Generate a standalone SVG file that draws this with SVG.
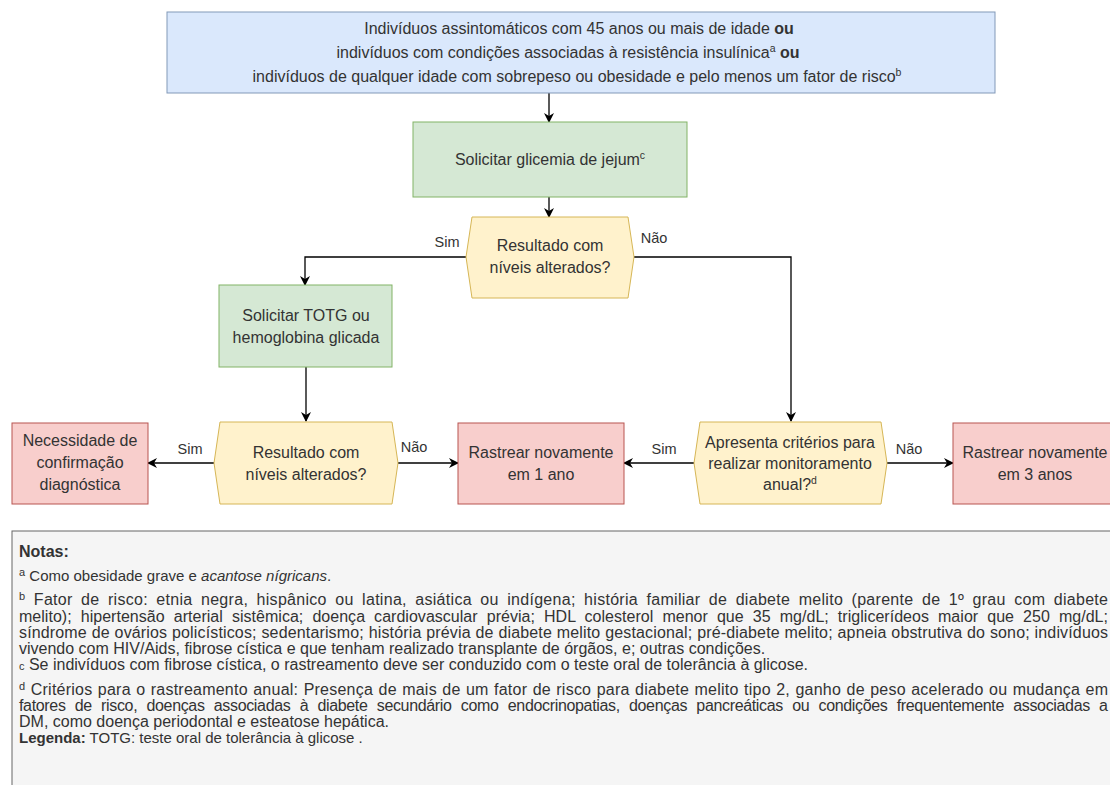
<svg xmlns="http://www.w3.org/2000/svg" width="1110" height="785" viewBox="0 0 1110 785">
<defs>
<marker id="arr" viewBox="0 0 10 10" refX="9" refY="5" markerWidth="10" markerHeight="10" markerUnits="userSpaceOnUse" orient="auto">
<path d="M0,0 L10,5 L0,10 L3,5 Z" fill="#000"/>
</marker>
<style>
.t{font-family:"Liberation Sans",Arial,sans-serif;font-size:16px;fill:#333;text-anchor:middle}
.lbl{font-family:"Liberation Sans",Arial,sans-serif;font-size:14.5px;fill:#333;text-anchor:middle}
.n{font-family:"Liberation Sans",Arial,sans-serif;font-size:16px;fill:#333}
.n15{font-size:15px}
.blue{fill:#dae8fc;stroke:#8299b8;stroke-width:1}
.green{fill:#d5e8d4;stroke:#82b366;stroke-width:1}
.yellow{fill:#fff2cc;stroke:#d6b656;stroke-width:1}
.red{fill:#f8cecc;stroke:#b85450;stroke-width:1}
.c{fill:none;stroke:#000;stroke-width:1.3;marker-end:url(#arr)}
</style>
</defs>
<rect width="1110" height="785" fill="#fff"/>

<g id="connectors">
<path class="c" d="M549,93 V122"/>
<path class="c" d="M549,197 V217"/>
<path class="c" d="M466,257 H305 V285"/>
<path class="c" d="M634,257 H791 V421"/>
<path class="c" d="M306,367 V421"/>
<path class="c" d="M214,463 H148"/>
<path class="c" d="M398,463 H458"/>
<path class="c" d="M694,463 H624"/>
<path class="c" d="M887,463 H953"/>
<text class="lbl" x="447" y="247">Sim</text>
<text class="lbl" x="654" y="243">Não</text>
<text class="lbl" x="190" y="454">Sim</text>
<text class="lbl" x="414" y="452">Não</text>
<text class="lbl" x="664" y="454">Sim</text>
<text class="lbl" x="909" y="454">Não</text>
</g>

<g id="start">
<rect class="blue" x="167" y="12" width="828" height="81"/>
<text class="t" x="579" y="34">Indivíduos assintomáticos com 45 anos ou mais de idade <tspan font-weight="bold">ou</tspan></text>
<text class="t" x="568" y="58">indivíduos com condições associadas à resistência insulínica<tspan dy="-6" font-size="10.5">a</tspan><tspan dy="6" font-weight="bold">  ou</tspan></text>
<text class="t" x="577" y="82">indivíduos de qualquer idade com sobrepeso ou obesidade e pelo menos um fator de risco<tspan dy="-6" font-size="10.5">b</tspan></text>
</g>

<g id="glicemia">
<rect class="green" x="413" y="122" width="274" height="75"/>
<text class="t" x="550" y="165">Solicitar glicemia de jejum<tspan dy="-6" font-size="10.5">c</tspan></text>
</g>

<g id="decisao1">
<polygon class="yellow" points="466,257 472,217 628,217 634,257 628,298 472,298"/>
<text class="t" x="550" y="251">Resultado com</text>
<text class="t" x="550" y="273">níveis alterados?</text>
</g>

<g id="totg">
<rect class="green" x="219" y="285" width="173" height="82"/>
<text class="t" x="306" y="321">Solicitar TOTG ou</text>
<text class="t" x="306" y="343">hemoglobina glicada</text>
</g>

<g id="decisao2">
<polygon class="yellow" points="214,463 220,422 392,422 398,463 392,504 220,504"/>
<text class="t" x="306" y="458">Resultado com</text>
<text class="t" x="306" y="480">níveis alterados?</text>
</g>

<g id="confirmacao">
<rect class="red" x="12" y="423" width="136" height="81"/>
<text class="t" x="80" y="446">Necessidade de</text>
<text class="t" x="80" y="468">confirmação</text>
<text class="t" x="80" y="490">diagnóstica</text>
</g>

<g id="rastrear1">
<rect class="red" x="458" y="423" width="166" height="81"/>
<text class="t" x="541" y="458">Rastrear novamente</text>
<text class="t" x="541" y="480">em 1 ano</text>
</g>

<g id="decisao3">
<polygon class="yellow" points="694,463 700,422 881,422 887,463 881,504 700,504"/>
<text class="t" x="790" y="448">Apresenta critérios para</text>
<text class="t" x="790" y="469">realizar monitoramento</text>
<text class="t" x="790" y="490">anual?<tspan dy="-6" font-size="10.5">d</tspan></text>
</g>

<g id="rastrear3">
<rect class="red" x="953" y="423" width="170" height="81"/>
<text class="t" x="1035" y="458">Rastrear novamente</text>
<text class="t" x="1035" y="480">em 3 anos</text>
</g>

<g id="notas">
<rect x="12" y="531" width="1120" height="280" fill="#f5f5f5" stroke="#666" stroke-width="1"/>
<text class="n" x="19" y="557" font-weight="bold">Notas:</text>
<text class="n n15" x="19" y="581"><tspan dy="-5" font-size="11">a</tspan><tspan dy="5"> Como obesidade grave e </tspan><tspan font-style="italic">acantose nígricans</tspan>.</text>
<text class="n" x="19" y="605" word-spacing="3.7" textLength="1089" lengthAdjust="spacing"><tspan dy="-5" font-size="11">b</tspan><tspan dy="5"> Fator de risco: etnia negra, hispânico ou latina, asiática ou indígena; história familiar de diabete melito (parente de 1º grau com diabete</tspan></text>
<text class="n" x="19" y="622" word-spacing="4.6" textLength="1089" lengthAdjust="spacing">melito); hipertensão arterial sistêmica; doença cardiovascular prévia; HDL colesterol menor que 35 mg/dL; triglicerídeos maior que 250 mg/dL;</text>
<text class="n" x="19" y="638" word-spacing="0.2" textLength="1089" lengthAdjust="spacing">síndrome de ovários policísticos; sedentarismo; história prévia de diabete melito gestacional; pré-diabete melito; apneia obstrutiva do sono; indivíduos</text>
<text class="n" x="19" y="654">vivendo com HIV/Aids, fibrose cística e que tenham realizado transplante de órgãos, e; outras condições.</text>
<text class="n" x="19" y="670"><tspan font-size="11">c</tspan> Se indivíduos com fibrose cística, o rastreamento deve ser conduzido com o teste oral de tolerância à glicose.</text>
<text class="n" x="19" y="695" word-spacing="0.7" textLength="1089" lengthAdjust="spacing"><tspan dy="-5" font-size="11">d</tspan><tspan dy="5"> Critérios para o rastreamento anual: Presença de mais de um fator de risco para diabete melito tipo 2, ganho de peso acelerado ou mudança em</tspan></text>
<text class="n" x="19" y="711" word-spacing="5.1" textLength="1089" lengthAdjust="spacing">fatores de risco, doenças associadas à diabete secundário como endocrinopatias, doenças pancreáticas ou condições frequentemente associadas a</text>
<text class="n" x="19" y="727">DM, como doença periodontal e esteatose hepática.</text>
<text class="n n15" x="19" y="743"><tspan font-weight="bold">Legenda:</tspan> TOTG: teste oral de tolerância à glicose .</text>
</g>
</svg>
